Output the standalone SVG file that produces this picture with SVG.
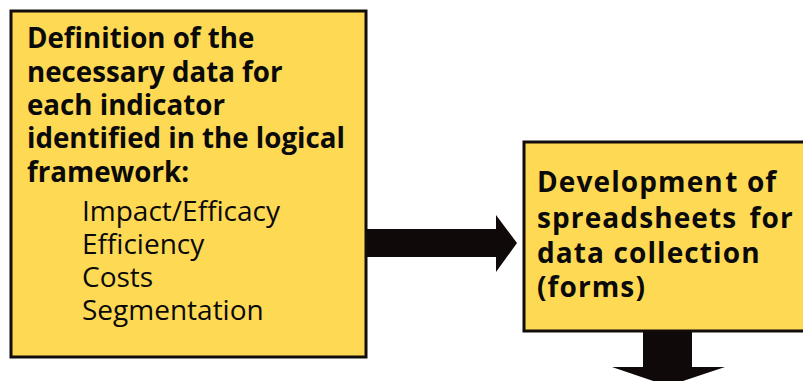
<svg xmlns="http://www.w3.org/2000/svg" width="803" height="381" viewBox="0 0 803 381">
  <style>
    .box { fill: #FED954; stroke: #120c0c; stroke-width: 3; }
    .arrow { fill: #0f0909; }
    .bold { font-family: "Open Sans", "Noto Sans", sans-serif; font-weight: 700; font-size: 27.7px; fill: #0a0a0a; }
    .wide { letter-spacing: 1.1px; font-size: 28px; }
    .reg { font-family: "Open Sans", "Noto Sans", sans-serif; font-weight: 400; font-size: 28px; fill: #0a0a0a; }
  </style>
  <rect width="803" height="381" fill="#ffffff"/>
  <g id="connectors">
    <!-- right-pointing block arrow between the two boxes -->
    <polygon class="arrow" points="367,229 496,229 496,215 517,243 496,272 496,257 367,257"/>
    <!-- downward block arrow leaving the lower box -->
    <polygon class="arrow" points="643,332 692,332 692,367 725,367 668,386 612,367 643,367"/>
  </g>
  <g id="node-definition">
    <rect class="box" x="11" y="11" width="355" height="346"/>
    <text class="bold">
      <tspan x="27" y="48">Definition of the</tspan>
      <tspan x="27" y="82">necessary data for</tspan>
      <tspan x="27" y="115">each indicator</tspan>
      <tspan x="27" y="148">identified in the logical</tspan>
      <tspan x="27" y="182">framework:</tspan>
    </text>
    <text class="reg">
      <tspan x="82" y="221">Impact/Efficacy</tspan>
      <tspan x="82" y="254">Efficiency</tspan>
      <tspan x="82" y="287">Costs</tspan>
      <tspan x="82" y="320">Segmentation</tspan>
    </text>
  </g>
  <g id="node-spreadsheets">
    <rect class="box" x="524" y="142" width="284" height="189"/>
    <text class="bold wide"><tspan x="537" y="192">Developmen<tspan dx="1.5">t of</tspan></tspan><tspan x="537" y="228">spreadsheets <tspan dx="4">for</tspan></tspan><tspan x="537" y="263">data collection</tspan><tspan x="537" y="297">(forms)</tspan></text>
  </g>
</svg>
